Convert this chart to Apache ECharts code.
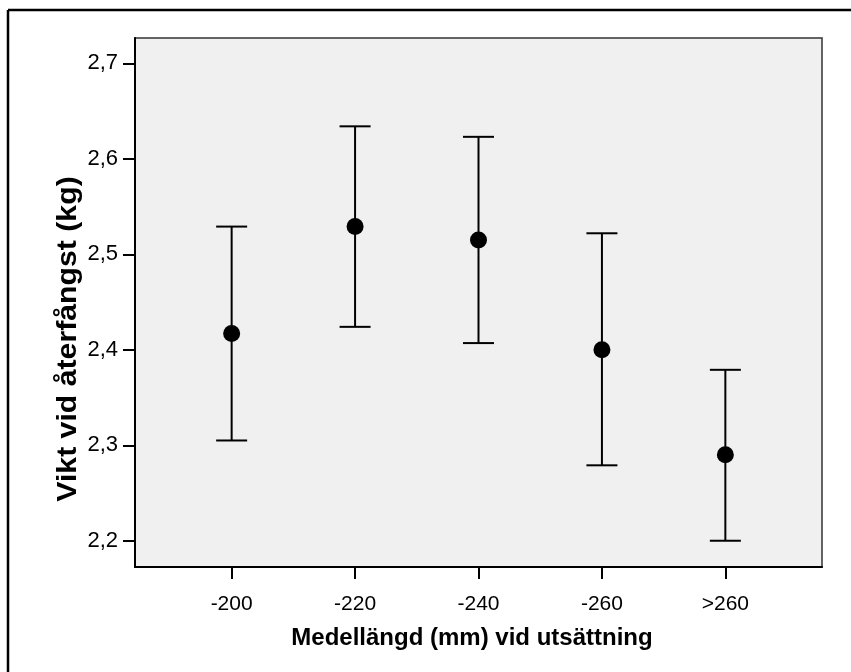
<!DOCTYPE html>
<html><head><meta charset="utf-8">
<script src="https://cdn.jsdelivr.net/npm/echarts@6/dist/echarts.min.js"></script>
<style>html,body{margin:0;padding:0;background:#fff}#c{width:851px;height:672px}</style>
</head><body><div id="c"></div>
<script>
const categories = ['-200', '-220', '-240', '-260', '>260'];
const means = [2.417, 2.529, 2.515, 2.400, 2.290];
const upper = [2.529, 2.634, 2.623, 2.522, 2.379];
const lower = [2.305, 2.424, 2.407, 2.279, 2.200];
const yTicks = [2.2, 2.3, 2.4, 2.5, 2.6, 2.7];
const xTitle = 'Medellängd (mm) vid utsättning';
const yTitle = 'Vikt vid återfångst (kg)';

const xPos = categories.map((c, i) => i + 1);
const FONT = '"Liberation Sans", Arial, sans-serif';

const chart = echarts.init(document.getElementById('c'), null, {renderer: 'canvas'});
chart.setOption({
  backgroundColor: '#fff',
  animation: false,
  grid: {left: 135, top: 38, right: 29, bottom: 105, show: true,
         backgroundColor: '#f0f0f0', borderColor: '#333', borderWidth: 1.5},
  xAxis: {
    type: 'value', min: 0.217, max: 5.783,
    axisLine: {show: true, lineStyle: {color: '#000', width: 2}},
    axisTick: {show: true, length: 12, lineStyle: {color: '#000', width: 2}, customValues: xPos},
    axisLabel: {customValues: xPos, margin: 27, color: '#000', fontSize: 21, fontFamily: FONT,
                formatter: v => categories[Math.round(v) - 1] || ''},
    splitLine: {show: false}
  },
  yAxis: {
    type: 'value', min: 2.1725, max: 2.7265,
    axisLine: {show: true, lineStyle: {color: '#000', width: 2}},
    axisTick: {show: true, length: 12, lineStyle: {color: '#000', width: 2}, customValues: yTicks},
    axisLabel: {customValues: yTicks, margin: 17, color: '#000', fontSize: 22, fontFamily: FONT,
                formatter: v => v.toFixed(1).replace('.', ',')},
    splitLine: {show: false}
  },
  graphic: [
    {type: 'line', shape: {x1: 8, y1: 10, x2: 851, y2: 10}, style: {stroke: '#000', lineWidth: 2.5}},
    {type: 'line', shape: {x1: 8, y1: 10, x2: 8, y2: 672}, style: {stroke: '#000', lineWidth: 2.5}},
    {type: 'text', x: 472, y: 638, style: {text: xTitle, font: 'bold 24px ' + FONT, fill: '#000',
      textAlign: 'center', textVerticalAlign: 'middle', align: 'center', verticalAlign: 'middle'}},
    {type: 'text', x: 69, y: 339, rotation: Math.PI / 2, scaleX: 1.12,
      style: {text: yTitle, font: 'bold 27px ' + FONT, fill: '#000',
      textAlign: 'center', textVerticalAlign: 'middle', align: 'center', verticalAlign: 'middle'}}
  ],
  series: [
    {
      type: 'custom',
      data: xPos.map((x, i) => [x, lower[i], upper[i]]),
      renderItem: function (params, api) {
        const x = api.value(0);
        const lo = api.coord([x, api.value(1)]);
        const hi = api.coord([x, api.value(2)]);
        const hw = 15.5;
        const st = {stroke: '#000', lineWidth: 2};
        return {type: 'group', children: [
          {type: 'line', shape: {x1: lo[0], y1: lo[1], x2: hi[0], y2: hi[1]}, style: st},
          {type: 'line', shape: {x1: hi[0] - hw, y1: hi[1], x2: hi[0] + hw, y2: hi[1]}, style: st},
          {type: 'line', shape: {x1: lo[0] - hw, y1: lo[1], x2: lo[0] + hw, y2: lo[1]}, style: st}
        ]};
      },
      z: 2
    },
    {
      type: 'scatter',
      data: xPos.map((x, i) => [x, means[i]]),
      symbol: 'circle', symbolSize: 17,
      itemStyle: {color: '#000', opacity: 1},
      z: 3
    }
  ]
});
</script></body></html>
